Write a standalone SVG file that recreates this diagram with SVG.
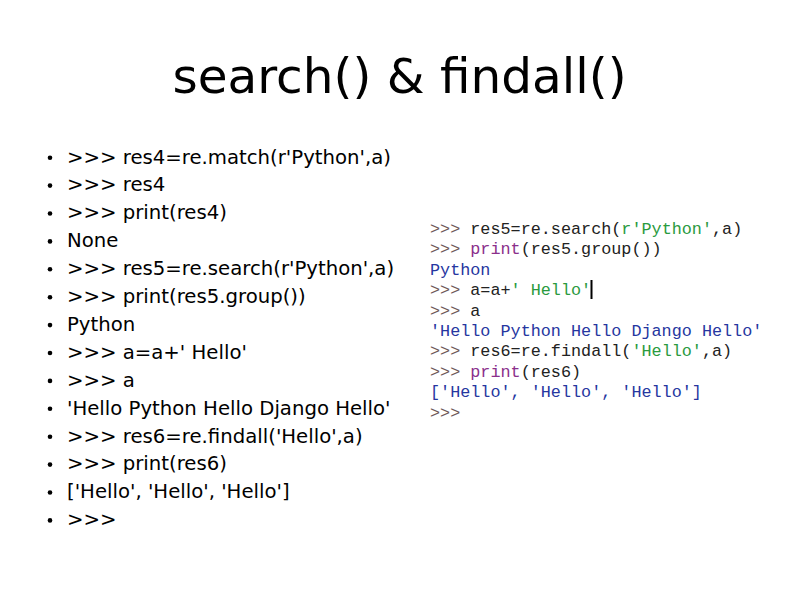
<svg xmlns="http://www.w3.org/2000/svg" width="800" height="600" viewBox="0 0 800 600">
<style>
.title{font-family:"DejaVu Sans","Liberation Sans",sans-serif;font-size:48.5px;fill:#000;}
.item{font-family:"DejaVu Sans","Liberation Sans",sans-serif;font-size:19.7px;fill:#000;white-space:pre;}
.bul{fill:#000;}
.code{font-family:"Liberation Mono","DejaVu Sans Mono",monospace;font-size:16.8px;fill:#222;white-space:pre;}
.pr{fill:#6e5858;}
.kw{fill:#8b2f8b;}
.st{fill:#2a9a3e;}
.out{fill:#2636a0;}
</style>
<rect width="800" height="600" fill="#fff"/>
<text class="title" x="399.5" y="93" text-anchor="middle">search() &amp; findall()</text>
<g id="bullets">
<circle class="bul" cx="50" cy="157.7" r="2.3"/>
<circle class="bul" cx="50" cy="185.6" r="2.3"/>
<circle class="bul" cx="50" cy="213.5" r="2.3"/>
<circle class="bul" cx="50" cy="241.4" r="2.3"/>
<circle class="bul" cx="50" cy="269.3" r="2.3"/>
<circle class="bul" cx="50" cy="297.2" r="2.3"/>
<circle class="bul" cx="50" cy="325.1" r="2.3"/>
<circle class="bul" cx="50" cy="353.0" r="2.3"/>
<circle class="bul" cx="50" cy="380.9" r="2.3"/>
<circle class="bul" cx="50" cy="408.8" r="2.3"/>
<circle class="bul" cx="50" cy="436.7" r="2.3"/>
<circle class="bul" cx="50" cy="464.6" r="2.3"/>
<circle class="bul" cx="50" cy="492.5" r="2.3"/>
<circle class="bul" cx="50" cy="520.4" r="2.3"/>
</g>
<g id="list" class="item">
<text x="67" y="163.5">&gt;&gt;&gt; res4=re.match(r'Python',a)</text>
<text x="67" y="191.4">&gt;&gt;&gt; res4</text>
<text x="67" y="219.3">&gt;&gt;&gt; print(res4)</text>
<text x="67" y="247.2">None</text>
<text x="67" y="275.1">&gt;&gt;&gt; res5=re.search(r'Python',a)</text>
<text x="67" y="303.0">&gt;&gt;&gt; print(res5.group())</text>
<text x="67" y="330.9">Python</text>
<text x="67" y="358.8">&gt;&gt;&gt; a=a+' Hello'</text>
<text x="67" y="386.7">&gt;&gt;&gt; a</text>
<text x="67" y="414.6">'Hello Python Hello Django Hello'</text>
<text x="67" y="442.5">&gt;&gt;&gt; res6=re.findall('Hello',a)</text>
<text x="67" y="470.4">&gt;&gt;&gt; print(res6)</text>
<text x="67" y="498.3">['Hello', 'Hello', 'Hello']</text>
<text x="67" y="526.2">&gt;&gt;&gt;</text>
</g>
<g id="console" class="code">
<text x="430" y="234"><tspan class="pr">&gt;&gt;&gt;</tspan> res5=re.search(<tspan class="st">r'Python'</tspan>,a)</text>
<text x="430" y="254.4"><tspan class="pr">&gt;&gt;&gt;</tspan> <tspan class="kw">print</tspan>(res5.group())</text>
<text x="430" y="274.8" class="out">Python</text>
<text x="430" y="295.2"><tspan class="pr">&gt;&gt;&gt;</tspan> a=a+<tspan class="st">' Hello'</tspan></text>
<text x="430" y="315.6"><tspan class="pr">&gt;&gt;&gt;</tspan> a</text>
<text x="430" y="336" class="out">'Hello Python Hello Django Hello'</text>
<text x="430" y="356.4"><tspan class="pr">&gt;&gt;&gt;</tspan> res6=re.findall(<tspan class="st">'Hello'</tspan>,a)</text>
<text x="430" y="376.8"><tspan class="pr">&gt;&gt;&gt;</tspan> <tspan class="kw">print</tspan>(res6)</text>
<text x="430" y="397.2" class="out">['Hello', 'Hello', 'Hello']</text>
<text x="430" y="417.6" class="pr">&gt;&gt;&gt;</text>
<rect x="590.5" y="280" width="2" height="19" fill="#000"/>
</g>
</svg>
